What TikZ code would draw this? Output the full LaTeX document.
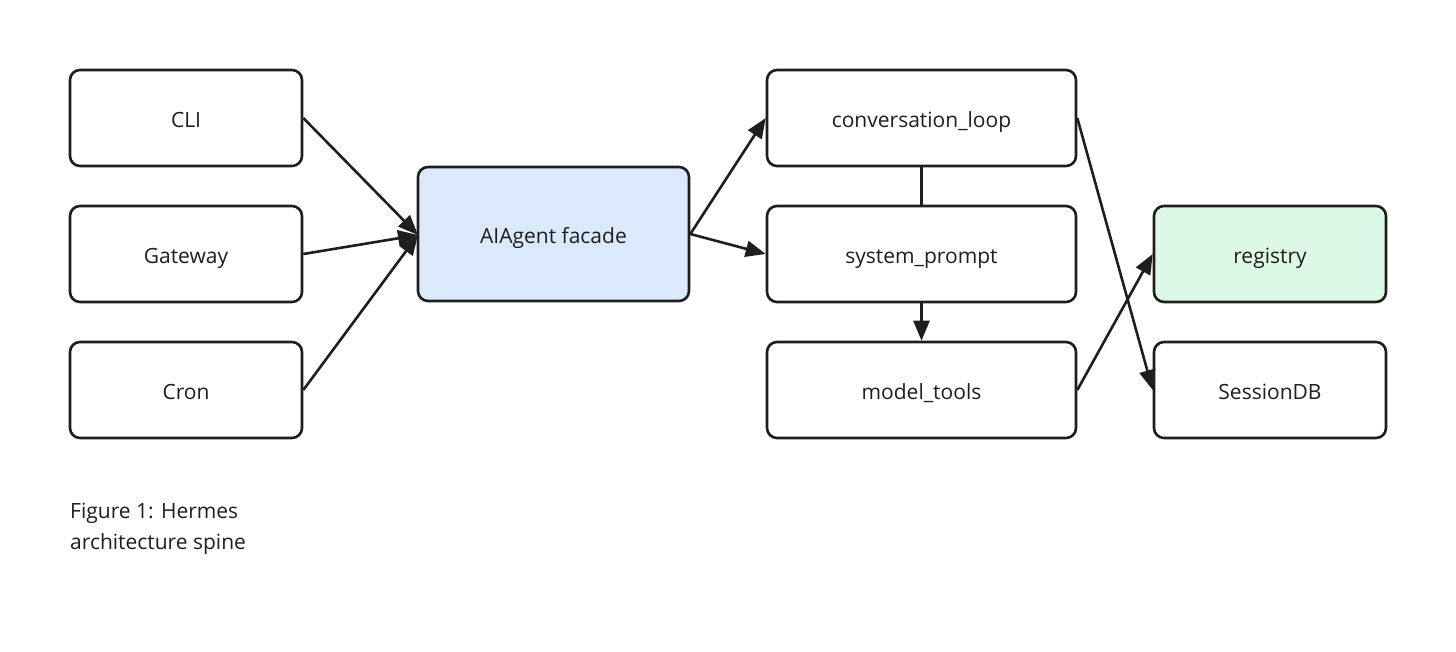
\documentclass[tikz,border=0pt]{standalone}
\usepackage{fontspec}
\setmainfont{Open Sans}
\usetikzlibrary{arrows.meta}
\definecolor{agentfill}{HTML}{DBE9FD}
\definecolor{regfill}{HTML}{DCF8E6}
\definecolor{ink}{HTML}{1E1E1E}
\tikzset{
  box/.style={draw=ink, line width=2.6pt, rounded corners=10pt, fill=white,
    minimum width=232pt, minimum height=96pt, inner sep=0pt,
    text height=19pt, text depth=0pt,
    font=\fontsize{21}{25}\selectfont, text=ink},
  widebox/.style={box, minimum width=309pt},
  agentbox/.style={box, minimum width=271pt, minimum height=134pt, fill=agentfill},
  conn/.style={draw=ink, line width=2.6pt, -{Triangle[length=20pt,width=16pt]}},
  plain/.style={draw=ink, line width=2.6pt},
  caption/.style={font=\fontsize{21}{31}\selectfont, text=ink, align=left, anchor=north west, inner sep=0pt}
}
\begin{document}
\begin{tikzpicture}[x=1pt,y=-1pt]
\useasboundingbox (0,0) rectangle (1456,651);
\node[box] (cli) at (186,118) {CLI};
\node[box] (gw) at (186,254) {Gateway};
\node[box] (cron) at (186,390) {Cron};
\node[agentbox] (agent) at (553.5,234) {AIAgent facade};
\node[widebox] (conv) at (921.5,118) {conversation\_loop};
\node[widebox] (sys) at (921.5,254) {system\_prompt};
\node[widebox] (mt) at (921.5,390) {model\_tools};
\node[box, fill=regfill] (reg) at (1270,254) {registry};
\node[box] (sdb) at (1270,390) {SessionDB};
\coordinate (hub) at (418,235);
\draw[conn] (cli.east) -- (hub);
\draw[conn] (gw.east) -- (hub);
\draw[conn] (cron.east) -- (hub);
\draw[conn] (agent.east) -- (conv.west);
\draw[conn] (agent.east) -- (sys.west);
\draw[plain] (conv.south) -- (sys.north);
\draw[conn] (sys.south) -- (mt.north);
\draw[conn] (conv.east) -- (sdb.west);
\draw[conn] (mt.east) -- (reg.west);
\node[caption] (cap) at (70,503) {Figure 1: Hermes\\architecture spine};
\end{tikzpicture}
\end{document}
